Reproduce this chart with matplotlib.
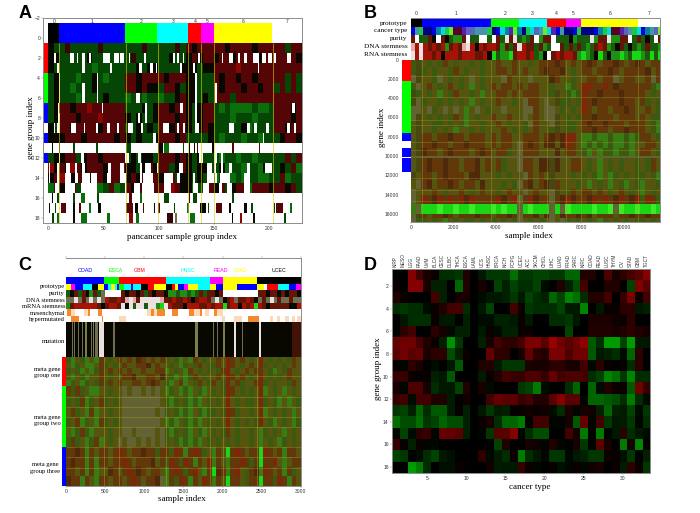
import numpy as np
import matplotlib
matplotlib.use('Agg')
import matplotlib.pyplot as plt
from matplotlib.colors import LinearSegmentedColormap

plt.rcParams['font.family'] = ['Liberation Sans', 'DejaVu Sans']

W, H = 700, 513
SERIF = 'Liberation Serif'
GREY = '#8c8c8c'

# --- colour letters used by all the strip strings below ---
palette = {
    'W': (255, 255, 255), 'k': (8, 8, 0), 'g': (25, 90, 12), 'G': (30, 145, 20),
    'B': (25, 215, 20), 'L': (60, 235, 40), 'r': (100, 22, 6), 'R': (165, 18, 6),
    'd': (65, 18, 6), 'o': (85, 85, 10), 'O': (60, 65, 15), 'y': (125, 125, 75),
    'x': (110, 110, 85), 'w': (235, 225, 225), 'p': (230, 170, 170),
    'n': (0, 0, 130), 'b': (0, 0, 225), 't': (0, 130, 160), 'c': (0, 220, 220),
    'e': (30, 200, 70), 'l': (100, 240, 40), 'm': (90, 0, 40), 'v': (90, 30, 180),
    's': (90, 100, 190), 'i': (70, 150, 170),
}
# panel A is darker, the B and C heatmaps are a fine red/green mix that reads as olive
a_palette = dict(palette, g=(5, 70, 5), G=(10, 110, 10), r=(85, 5, 5), R=(140, 5, 5), d=(55, 5, 5))
heat_palette = dict(palette, g=(60, 90, 15), G=(55, 125, 20), o=(85, 85, 15), O=(70, 72, 15),
                    r=(98, 55, 10), R=(125, 38, 8), d=(78, 42, 10), y=(98, 98, 50))
proto_colors = ['black', 'blue', '#00ff00', 'cyan', 'red', 'magenta', 'yellow', 'white']

# --- Panel A data: 18 gene groups, one letter per 5 samples ---
a_edges = [0, 10, 70, 99, 127, 139, 150, 203, 230]
a_lines = [10, 71, 100, 127, 139, 150, 204]
a_rows = [
    "kg gdgggggdgggg gggdgg gggdg rkr rr rrkrrrrkrrr rrgrr",
    "kk gggggkgggggg gdgggg ggkgg krk rr krrkrrrrkrr rrrrk",
    "kg ggggggGggggg ggkgkk ggggk kkg kk rrrrRrrrrrr rrrrr",
    "gk gggGggkgGggg rrkrrr rkrrr kkg gg rkrrkrrkrrr rrgrg",
    "gk ggGgggkggggg rrkrkk grrkg kkg gg rkrrrkrrkrr grgrg",
    "gk gggGggggkggg GggGgg Gggkr kkg kg rrrgrrrrrrr rrrrr",
    "gk rrkrrRrrrrrr gggkgk rrkrr kgk rr gGgGGGGgGGg rrrkr",
    "gk rrrkrrrRrrrr kgkggk rrrkr kgk rr gggGgggGggg rrrkr",
    "kg rrkrrrrkrrrr ggkgkg rrkrr kgk rk gggggkGgggg rrkrr",
    "kk krrrkrrrrrkr kgkggk rrrkr ggg gk gGgggGggGgg gkrrk",
    "WW WWWWWWWWWWWW WWWWWW WWWWW WWW WW WWWWWWWWWWW WWWWW",
    "gk krrgkrrkrrrr gkgkkg rrrkr kgk gg gGggGggGggg ggrgr",
    "Rk rkRrkrrrkrrR kkgkrk rrgkr kgk kg gkGggGggGkg gkgrG",
    "kr Rrkrrkrrkrrr krkrkr kgrgk kgk gk GgkGgGggGGg grGgg",
    "Gr kGrgrgGGgrGg rkrkrr rrRrk kGg kr krgkrrGrrrk rrkrg",
    "WW WWWWWWWWWWWW WWWWWW WWWWW WWW WW WWWWWWWWWWW WWWWW",
    "WW WWWWWWWWWWWW WWWWWW WWWWW WWW WW WWWWWWWWWWW WWWWW",
    "WW WWWWWWWWWWWW WWWWWW WWWWW WWW WW WWWWWWWWWWW WWWWW",
]
# white gaps per group (from sample, to sample)
a_gaps = {
    2: [(5, 7), (20, 23), (26, 27), (31, 33), (37, 39), (50, 56), (60, 64), (65, 69), (73, 74), (87, 89),
        (113, 115), (117, 119), (122, 123), (136, 138), (158, 159), (164, 168), (172, 174), (178, 180),
        (186, 191), (194, 198), (199, 203), (205, 207), (217, 220)],
    3: [(8, 10), (31, 33), (56, 58), (82, 85), (92, 95), (98, 99), (120, 121), (131, 133), (190, 191)],
    4: [(10, 11), (44, 45), (133, 135)],
    5: [(10, 11), (31, 33), (44, 45), (133, 135), (151, 153)],
    6: [(10, 11), (31, 33), (44, 45), (80, 83), (133, 135), (151, 153)],
    7: [(9, 10), (49, 50), (88, 90), (120, 122), (133, 135), (221, 224)],
    8: [(9, 11), (81, 83), (88, 90), (133, 135)],
    9: [(5, 6), (8, 11), (21, 25), (32, 33), (43, 45), (53, 56), (62, 64), (72, 77), (84, 86), (104, 110),
        (117, 119), (122, 124), (133, 137), (164, 169), (180, 183), (187, 189), (198, 200), (217, 219), (223, 225)],
    10: [(95, 98), (195, 196)],
    12: [(10, 11), (30, 32), (70, 73), (81, 84), (137, 140), (150, 153), (157, 159)],
    13: [(1, 2), (8, 10), (16, 20), (24, 26), (31, 33), (54, 57), (65, 69), (83, 85), (88, 93), (99, 100),
         (119, 122), (144, 149), (150, 152), (157, 159), (164, 167), (180, 183), (197, 203)],
    14: [(1, 2), (8, 10), (15, 21), (24, 27), (31, 38), (39, 44), (53, 57), (65, 71), (83, 85), (86, 95),
         (105, 113), (117, 120), (131, 133), (144, 150), (151, 153), (156, 165), (178, 183)],
    15: [(6, 10), (15, 24), (30, 44), (70, 71), (78, 83), (85, 96), (105, 111), (131, 136), (140, 146),
         (155, 158), (162, 167), (178, 183)],
}
# dark stripes on the nearly white groups (from sample, to sample, colour letter)
a_marks = {
    11: [(3, 4, 'k'), (10, 11, 'k'), (22, 24, 'g'), (43, 45, 'g'), (71, 75, 'g'), (100, 104, 'k'), (105, 110, 'G'),
         (122, 123, 'g'), (128, 129, 'k'), (132, 133, 'k'), (135, 136, 'r'), (149, 150, 'k'), (167, 169, 'r'), (191, 192, 'r')],
    16: [(3, 4, 'k'), (8, 10, 'g'), (22, 24, 'g'), (30, 33, 'G'), (44, 46, 'g'), (73, 76, 'r'), (83, 85, 'G'),
         (105, 110, 'g'), (128, 129, 'r'), (131, 135, 'g'), (167, 169, 'g')],
    17: [(1, 2, 'k'), (6, 7, 'g'), (12, 16, 'r'), (22, 24, 'k'), (28, 30, 'r'), (37, 39, 'G'), (45, 48, 'k'),
         (71, 77, 'r'), (79, 81, 'k'), (86, 87, 'r'), (96, 97, 'k'), (100, 101, 'r'), (114, 115, 'g'), (126, 128, 'G'),
         (138, 143, 'k'), (145, 146, 'g'), (152, 158, 'r'), (164, 166, 'k'), (178, 180, 'k'), (184, 186, 'g'),
         (205, 206, 'g'), (207, 213, 'r'), (219, 221, 'G')],
    18: [(3, 5, 'g'), (8, 10, 'G'), (22, 24, 'k'), (30, 35, 'G'), (53, 56, 'G'), (73, 77, 'R'), (80, 82, 'G'),
         (108, 113, 'd'), (115, 117, 'x'), (129, 133, 'G'), (167, 168, 'k'), (174, 176, 'R'), (186, 188, 'k'), (214, 216, 'g')],
}
a_side = ['red', 'red', 'red', '#00ff00', '#00ff00', '#00ff00', 'blue', 'blue', 'white',
          'blue', 'white', 'blue', 'white', 'white', 'white', 'white', 'white', 'white']

# --- Panel B data ---
b_edges = [0, 515, 3765, 5060, 6375, 7265, 8000, 10670, 11690]
b_side_edges = [0, 2250, 7590, 8410, 9200, 10070, 10240, 11650, 16860]
b_side_colors = ['red', '#00ff00', 'blue', 'white', 'blue', 'white', 'blue', 'white']
b_track_names = ['prototype', 'cancer type', 'purity', 'DNA stemness', 'RNA stemness']
# one letter per 200 samples
b_cancer = "bie nnbtcelmmvssiiie nbctvl tnecsil cvbi nnbe nnnbtecmmvsie cbtisl"
b_purity = "rWg grkWrkgGGrWggWWg Wrgwrw gGgrWGr rWgg gkGg ggwGrrwGGrrWg rgkgWr"
b_dna = "pRw RrRrRGrRrpwRkRrR RrGrgr wRrrgrG gWWr grgr gGgrRrGgkrgkg GgrggG"
b_rna = "wRw RRrRkRRRrRRRrrRk BgGGBr RRrRgGk WrRr RRrG BGgkBgkGGBGgB BGgBgB"
# one letter per 250 samples
b_row_edges = [0, 800, 1600, 2400, 3200, 4000, 4800, 5600, 6400, 7000, 7600, 8400, 9200, 10000, 10200,
               11600, 12500, 13400, 14000, 14950, 15950, 16400, 16860]
b_heat = [
    "gO ogogrogoogogo oroor oogor rrdr oro rdrorrdrord rorr",
    "gO gogoogrogoogo orror oroor drrd ogo rrorrdrorrr rdor",
    "yO oogyogogoyogo ooyro ooyoo odro ogo orrorryorro oryr",
    "gy orogorogoGogo rorro rorro ogoo Ggo RRrrRrdrrrr rrgG",
    "Og ogoGogroogoGo orror orrro ogOo gGg Rrrdrrrdrrr rogo",
    "Oy googogogoGogo oroog oyrro yoOg gog Rrdrrrrdrro rgog",
    "yy oygoyoyoGoyog ooyoo oyyro yyog ogo Rrorrorrdro orog",
    "yO ogogogroGogoo rooro oyoro yyOo gog rrdrrrorrro rogg",
    "oO ooggogogGoogo orogo ogyro oyOo ggo rdrrdrrrorr rogG",
    "oO oogogoGoogogo oorog ogoro ogOo ggo rrdrrorrdrr rogG",
    "oO rrorrdrrorrro rorro orrro rdrd RRo GGgGGgGGgGg rrog",
    "oO rrdrrorrdrrro rorro yrdro ddod Rro GgGgGgGGgGo orro",
    "oO drrordrrrordr orrgo yrrro oodo rro gGoGggGggGo rrog",
    "yy yyyyyyyyyyyyy yyyyy yyyyy yyyy yyy yyyyyyyyyyy yyyy",
    "oO rdrrdrrorrdor orgoo yrrod dOdo orr ogoGogogoog ogro",
    "Oo rrordrrroddoo ogogo oyror oOoo ogo gogGoGgogog gogG",
    "oy rdorrdrorrodo oogog yrdor dOro oog oGogoGogGog Goog",
    "yo oorogoorogoro ogoro oyoro oyOo gro rrorogorogo Gogo",
    "yo RrdRrRrRdRrrr rRdrR yrRdr ryrd Rdr rdRrRrdRrdR gRrg",
    "Gy BBBLBBLBBLBBB LBLBB yBLBB ByBy LBB BBLBBLyLBBL BBLB",
    "yO rorrdrorrrdrr orrdr yrrdo dyod rrd rdorrrorrdr rdrr",
    "yg gogoGogoggogo gogog yogog oyoy gog ogoGgogogog gogo",
]
b_hlines = [1750, 3900, 6250, 6800, 8500, 9400, 12300, 13500, 14700]

# --- Panel C data ---
c_cancers = ['COAD', 'ESCA', 'GBM', 'HNSC', 'READ', 'STAD', 'UCEC']
c_cancer_edges = [0, 485, 680, 1280, 1840, 2010, 2445, 3005]
c_cancer_colors = ['blue', '#00ff00', 'red', 'cyan', 'magenta', 'yellow', 'black']
c_name_pos = [251, 630, 946, 1551, 1977, 2236, 2714]
c_proto_edges = [0, 64, 115, 222, 328, 405, 486, 533, 571, 626, 656, 682, 741, 826, 861, 963, 1048, 1125, 1278, 1350,
                 1393, 1436, 1508, 1563, 1687, 1840, 1913, 2011, 2190, 2445, 2530, 2565, 2705, 2846, 2939, 3008]
c_proto_colors = ['yellow', 'magenta', 'blue', 'cyan', 'black', 'yellow', 'blue', 'cyan', 'yellow', 'cyan', 'blue',
                  '#00ff00', 'cyan', 'blue', 'cyan', 'black', 'red', 'yellow', 'black', 'red', 'yellow', 'blue',
                  'magenta', 'yellow', 'cyan', 'yellow', 'blue', 'yellow', 'blue', 'yellow', 'white', 'red', 'cyan',
                  'blue', 'magenta']
# one letter per 50 samples
c_purity = "gkrgrkGrgx WWWW rkrrkrgrkrrk GGgGGgGgrgr rkr WWWWWWWWW rrkrrkrkrrk"
c_dna = "xxwxrxwxwx RrrR rpwprwwwwwpr rRrrRrkrRRr xwx krRxrrRrk xrxwxrxxrxx"
c_mrna = "GrRRRRRRrk rRRr wkwgwwgwwGBw RrrrkRRRrrR rRR BrRRkRrRB RrkrrrrrkkR"
c_mesen_dark = [(10, 60), (285, 305), (415, 455), (1090, 1125), (1160, 1265), (1350, 1435), (1565, 1630), (1710, 1735), (1885, 1925)]
c_mesen_light = [(60, 110), (230, 285), (1030, 1090), (1125, 1160), (1640, 1710), (1780, 1830), (1925, 2000)]
c_hyper_dark = [(65, 160), (455, 470), (2330, 2460)]
c_hyper_light = [(680, 760), (1990, 2030), (2150, 2250), (2600, 2640), (2700, 2730), (2800, 2850), (2880, 2920), (2950, 3000)]
c_mut_stripes = [(72, 85, 'x'), (102, 115, 'x'), (158, 172, 'x'), (200, 214, 'x'), (243, 265, 'y'), (315, 330, 'x'),
                 (349, 362, 'y'), (371, 405, 'x'), (426, 486, 'w'), (605, 620, 'x'), (1650, 1690, 'y'),
                 (1883, 1895, 'x'), (1925, 1937, 'x'), (2011, 2025, 'y'), (2147, 2172, 'w'), (2245, 2258, 'x'),
                 (2460, 2490, 'w'), (2885, 3005, 'd')]
c_row_edges = [0, 18, 35, 53, 70, 88, 119, 150, 180, 211, 242, 272, 301, 330, 358, 387]
c_side_edges = [0, 88, 272, 387]
c_side_colors = ['red', '#00ff00', 'blue']
# one letter per 60 samples
c_heat = [
    "gGogGoGr ogo rorodroror gogGoGrogo oro Rrorogo Rogogogro",
    "oGgoGGor gog oroorrdoro ogoGgogrog gro Rrogoro Rgogogoro",
    "gogGoGgr oro rorooroorr GogoGrogog ogr Rogoror rogGogroo",
    "oGogGoor ogo orrdoorrod ogGoGgrogo oro Rrorogo Rogogoroo",
    "GgoGgogr gro roorrordro gGorGogrog rog Rorgoor Rgogoogro",
    "rgrgoGGo ogo oyoyyoyoyo GgoGgGogGo gog Rrogogo RGogoGogo",
    "gogrGgor gog oyyyyyyyyo gGgogGgGog ogo Rogoggo RgogGoGog",
    "orgoGrGo ogo oyyyyyyyoy gogGgGogGg gog Rrgoogo RGogogoGo",
    "gorGgoGr gog oyyyyyyyyo GgGogGgGog ogo Rogogog RogGogoGg",
    "oGgrgGoo ogo oyyoyyyyoy gGgogGogGo gog rogoogo GgogoGogo",
    "grgoGgrG ogo yoyyoyoyoy gogGgGgGog ogo gogoogo GogoGgogo",
    "rrdrGror ror Rrorrdrrgr rgRrGrRrgo Gro BrRrorr BRrorGrro",
    "rdrrGrGr ror rRrorrrdor gRrgRrGroR Gro GrrRrgr BrrRoGorr",
    "rrorGrGo odr orRrdrorro GrRrgrRoGr Bdr GrRogrd GRrorGrgo",
    "drrGroGr ror rorRrorrdy GrgRrGroRr Gro Brrogrr BrrgRrGro",
]
c_hlines = [57, 120, 150, 180, 211, 272, 301, 335]

# --- Panel D data: gene group (rows) by cancer type (columns) ---
d_types = ['KIRP', 'MESO', 'LGG', 'PAAD', 'UVM', 'BLCA', 'CESC', 'DLBC', 'THCA', 'ESCA', 'LAML', 'UCS', 'HNSC',
           'BRCA', 'KICH', 'PCPG', 'UCEC', 'ACC', 'SKCM', 'CHOL', 'LIHC', 'LUAD', 'PRAD', 'SARC', 'KIRC', 'COAD',
           'READ', 'LUSC', 'THYM', 'OV', 'STAD', 'GBM', 'TGCT']
d_values = np.array([
    [0, 0, .6, .3, .1, .05, -.2, -.2, -.25, .15, 0, -.1, -.25, -.25, -.25, -.5, -.25, -.25, -.3, -.3, -.25, -.25, -.45, -.45, .15, .15, 0, .35, .1, .2, .3, .4, .6],
    [.05, 0, .6, .6, .1, -.15, -.15, 0, -.45, .15, 0, .1, 0, -.3, -.15, -.3, -.2, -.2, -.3, -.05, 0, .15, -.15, -.35, .3, 0, 0, .15, .15, 0, -.3, .55, .4],
    [.15, .05, 0, 0, 0, .3, -.15, 0, .1, .1, 0, -.05, -.1, -.1, -.15, -.25, -.1, -.3, -.2, -.15, -.45, -.3, -.6, -.5, -.2, .15, .15, .3, 0, .25, .55, .05, .3],
    [-.2, -.25, -.2, -.2, -.05, .05, .15, .3, .3, -.2, 0, -.1, -.3, 0, 0, .3, .05, -.25, -.2, -.2, -.2, -.3, -.1, -.1, -.6, 0, -.1, .05, .05, .2, .2, -.1, -.15],
    [0, -.1, -.2, -.2, -.2, .05, -.1, -.1, 0, -.15, 0, -.05, -.05, -.15, -.15, -.1, .05, -.1, 0, 0, -.2, -.2, -.25, -.1, 0, .12, .12, .12, .08, .05, .2, 0, 0],
    [0, .2, .3, 0, 0, .2, .1, -.05, -.15, -.15, 0, -.1, .05, -.05, -.15, -.15, .05, .05, 0, 0, 0, 0, -.3, 0, 0, .15, .15, .15, .1, .15, .2, .15, .1],
    [.45, .5, .5, .3, .15, .05, -.15, -.65, -.25, 0, 0, -.15, .1, .3, .2, .2, .3, .55, .55, .4, .7, .5, .4, .5, .65, -.4, -.2, -.7, -.7, -.3, -.7, -.1, -.1],
    [.4, .5, .4, .45, .12, .2, .2, -.35, -.15, .05, 0, 0, .45, .2, .2, 0, .1, .45, .2, .15, .55, .55, .35, .5, .5, -.4, -.1, -.15, -.2, -.05, -.45, .2, 0],
    [.02, -.02, .2, .12, 0, -.05, 0, -.1, -.4, 0, 0, .15, .15, -.1, -.25, -.25, -.25, .12, .1, .1, .2, .2, .1, .1, .3, -.03, .2, .03, .02, .03, -.2, .2, 0],
    [.25, .25, .05, .02, .05, -.15, -.1, -.4, 0, 0, 0, -.12, .05, .15, .3, .25, .25, .35, .35, .25, .45, .3, .35, .35, .3, -.2, -.3, -.6, -.5, -.25, -.6, -.2, -.2],
    [.1, -.02, .35, .35, .1, -.2, -.1, -.1, -.3, .15, 0, .1, -.05, 0, 0, 0, -.25, -.3, -.55, -.05, 0, 0, -.2, -.45, 0, -.45, -.05, .15, .05, .05, -.4, .5, .25],
    [.25, .3, -.05, .3, .3, .15, .15, -.12, 0, .08, 0, 0, .3, .45, .4, .4, .25, .3, .15, .15, .4, .6, .4, .4, -.02, -.45, -.45, -.4, -.35, -.2, -.55, -.2, -.05],
    [-.25, -.3, -.15, -.45, -.2, -.4, -.4, -.12, .03, -.15, 0, -.1, -.25, -.12, -.15, .03, .05, .08, .05, .08, -.05, -.2, .12, -.02, .1, .08, -.15, -.45, -.15, -.12, -.3, -.05, -.25],
    [-.5, -.35, -.35, -.5, -.25, -.3, -.45, -.35, -.35, -.15, 0, .05, .1, -.2, -.45, -.45, -.55, 0, .3, .3, -.02, -.02, .1, -.4, .45, -.02, .3, -.25, -.1, -.12, -.25, -.02, -.2],
    [-.02, -.3, -.05, .2, .25, -.02, .45, .45, .4, -.15, 0, -.02, -.25, .4, .4, .6, -.02, -.2, -.35, -.35, 0, 0, .3, .1, -.55, -.02, -.55, -.02, -.1, .2, -.2, -.1, -.05],
    [.25, .05, -.15, .05, -.02, -.03, 0, 0, 0, 0, 0, 0, 0, -.3, .15, 0, 0, .1, .08, -.02, .15, -.03, 0, .1, -.25, -.02, .4, .1, 0, -.55, .1, -.6, 0],
    [-.3, -.25, 0, -.05, -.2, -.3, -.1, -.08, 0, 0, 0, .2, -.03, -.12, -.2, .05, -.55, -.2, -.1, -.02, -.25, -.25, -.03, -.1, -.15, -.25, -.25, .05, .05, -.08, -.25, 0, -.15],
    [0, 0, -.7, -.55, -.2, 0, -.08, -.08, .05, .02, 0, 0, .08, -.12, -.1, -.1, .25, .05, -.03, 0, .03, -.08, -.03, .05, -.03, .08, .1, 0, .05, -.12, .2, .05, -.25],
])


def axes_px(left, top, right, bottom):
    return fig.add_axes([left / W, 1 - bottom / H, (right - left) / W, (bottom - top) / H])


def px_text(x, y, s, **kw):
    fig.text(x / W, 1 - y / H, s, family=SERIF, ha='center', va='center', **kw)


def letter_rgb(ch, pal=palette):
    return np.array(pal[ch]) / 255


def draw_strip(ax, rows, step, y_edges, pal=palette):
    rgb = np.array([[pal[ch] for ch in row.replace(' ', '')] for row in rows], dtype=float) / 255
    x_edges = np.arange(rgb.shape[1] + 1) * step
    ax.pcolormesh(x_edges, y_edges, rgb, antialiased=False, rasterized=True)


def color_bar(ax, edges, colors, y0, y1):
    for i, c in enumerate(colors):
        ax.fill_between([edges[i], edges[i + 1]], y0, y1, color=c, lw=0, clip_on=False)


def style_axes(ax):
    for s in ax.spines.values():
        s.set_color(GREY)
        s.set_linewidth(0.7)
    ax.tick_params(labelsize=3.6, length=1.2, width=0.3, color=GREY, labelcolor='#333333', pad=1)


fig = plt.figure(figsize=(7, 5.13), dpi=100)

# --- Panel A ---
ax = axes_px(43.3, 18.3, 301.7, 222.7)
draw_strip(ax, a_rows, 5, np.arange(0.5, 19), a_palette)
for row, gaps in a_gaps.items():
    ax.broken_barh([(s, e - s) for s, e in gaps], (row - 0.5, 1), facecolors='white')
for row, marks in a_marks.items():
    ax.broken_barh([(s, e - s) for s, e, _ in marks], (row - 0.5, 1),
                   facecolors=[letter_rgb(m[2], a_palette) for m in marks])
color_bar(ax, a_edges, proto_colors, -1.5, 0.5)
for row, c in enumerate(a_side, start=1):
    ax.fill_between([-4.5, 0], row - 0.5, row + 0.5, color=c, lw=0)
ax.vlines(a_lines, 0.5, 18.5, color='#d8d000', alpha=0.6, lw=0.7)
ax.set_xlim(-4.5, 230)
ax.set_ylim(18.5, -2)
ax.set_xticks([0, 50, 100, 150, 200])
ax.set_yticks([-2, 0] + list(range(2, 19, 2)))
style_axes(ax)
for i in range(8):
    ax.text((a_edges[i] + a_edges[i + 1]) / 2, -1.72, str(i), fontsize=3.6, color='#333333', ha='center', va='center')
px_text(181.7, 236.7, 'pancancer sample group index', fontsize=6.5)
px_text(31, 127.7, 'gene group index', fontsize=6.5, rotation=90)

# --- Panel B ---
ax = axes_px(410.7, 18.3, 660, 222.3)
b_tracks = [b_cancer, b_purity, b_dna, b_rna]
for i, track in enumerate(b_tracks):
    top = -4270 + (i + 1) * 854
    draw_strip(ax, [track], 200, [top, top + 854])
color_bar(ax, b_edges, proto_colors, -4270, -3416)
draw_strip(ax, b_heat, 250, b_row_edges, heat_palette)
ax.hlines(b_hlines, 0, 11690, color='#b0a030', alpha=0.45, lw=0.5)
ax.vlines(b_edges[1:-1], 0, 16860, color='#b0a030', alpha=0.45, lw=0.6)
for i, c in enumerate(b_side_colors):
    ax.fill_between([-422, 0], b_side_edges[i], b_side_edges[i + 1], color=c, lw=0, clip_on=False)
ax.set_xlim(0, 11690)
ax.set_ylim(16860, -4270)
ax.set_xticks(range(0, 10001, 2000))
ax.set_yticks(range(0, 16001, 2000))
style_axes(ax)
ax.spines['left'].set_visible(False)
ax.tick_params(axis='y', length=0, pad=8.5)
for i in range(8):
    ax.text((b_edges[i] + b_edges[i + 1]) / 2, -4750, str(i), fontsize=3.6, color='#333333',
            ha='center', va='center', clip_on=False)
for i, name in enumerate(b_track_names):
    fig.text(407.3 / W, 1 - (23.3 + i * 7.7) / H, name, family=SERIF, fontsize=5.2, ha='right', va='center')
px_text(529, 236, 'sample index', fontsize=6.5)
px_text(381.7, 127, 'gene index', fontsize=6.5, rotation=90)

# --- Panel C ---
ax = axes_px(66, 258, 301.3, 485.7)
color_bar(ax, c_cancer_edges, c_cancer_colors, -238, -219)
color_bar(ax, c_proto_edges, c_proto_colors, -219, -200)
draw_strip(ax, [c_purity], 50, [-200, -180])
draw_strip(ax, [c_dna], 50, [-180, -160])
draw_strip(ax, [c_mrna], 50, [-160, -142])
ax.broken_barh([(s, e - s) for s, e in c_mesen_light], (-142, 20), facecolors='#fcd9b8')
ax.broken_barh([(s, e - s) for s, e in c_mesen_dark], (-142, 20), facecolors='#f58a2c')
ax.broken_barh([(s, e - s) for s, e in c_hyper_light], (-122, 19), facecolors='#fcd9b8')
ax.broken_barh([(s, e - s) for s, e in c_hyper_dark], (-122, 19), facecolors='#f58a2c')
ax.fill_between([0, 3010], -103, 0, color=letter_rgb('k'), lw=0)
ax.broken_barh([(s, e - s) for s, e, _ in c_mut_stripes], (-103, 103),
               facecolors=[letter_rgb(m[2]) for m in c_mut_stripes])
draw_strip(ax, c_heat, 60, c_row_edges, heat_palette)
ax.hlines(c_hlines, 0, 3005, color='#c0b030', alpha=0.45, lw=0.5)
ax.vlines(c_cancer_edges[1:-1], 0, 387, color='#c0b030', alpha=0.45, lw=0.6)
for i, c in enumerate(c_side_colors):
    ax.fill_between([-47, 0], c_side_edges[i], c_side_edges[i + 1], color=c, lw=0, clip_on=False)
for name, pos, c in zip(c_cancers, c_name_pos, c_cancer_colors):
    ax.text(pos, -258, name, fontsize=3.8, color=c, ha='center', va='center')
ax.set_xlim(0, 3005)
ax.set_ylim(387, -296)
ax.set_xticks(range(0, 3001, 500))
ax.set_yticks([])
style_axes(ax)
ax.spines['left'].set_visible(False)
ax.tick_params(axis='x', top=True)
for name, zy in zip(['prototype', 'purity', 'DNA stemness', 'mRNA stemness', 'mesenchymal', 'hypermutated', 'mutation'],
                    [110, 130, 150, 170, 189, 207, 275]):
    fig.text(65 / W, 1 - (250 + zy / 3) / H, name, family=SERIF, fontsize=4.7, ha='right', va='center')
for name, zy in zip(['meta gene\ngroup one', 'meta gene\ngroup two', 'meta gene\ngroup three'], [368, 512, 654]):
    fig.text(60.5 / W, 1 - (250 + zy / 3) / H, name, family=SERIF, fontsize=4.7, ha='right', va='center',
             multialignment='center', linespacing=1.35)
px_text(181.7, 499, 'sample index', fontsize=6.5)

# --- Panel D ---
ax = axes_px(391.7, 269, 650, 472.7)
red_green = LinearSegmentedColormap.from_list('red_green', ['#00ff00', '#000000', '#ff0000'])
ax.imshow(d_values, cmap=red_green, vmin=-1.15, vmax=1.15, aspect='auto', interpolation='nearest',
          extent=[0.5, 33.5, 18.5, 0.5])
ax.set_xticks(range(5, 31, 5))
ax.set_yticks(range(2, 19, 2))
style_axes(ax)
for i, name in enumerate(d_types, start=1):
    ax.text(i, 0.35, name, rotation=90, fontsize=3.4, color='#333333', ha='center', va='bottom', clip_on=False)
px_text(530, 486.7, 'cancer type', fontsize=6.5)
px_text(378, 369, 'gene group index', fontsize=6.5, rotation=90)

# --- Panel letters ---
for letter, x, y in [('A', 25.5, 14), ('B', 370, 14), ('C', 25, 265), ('D', 370.5, 265)]:
    fig.text(x / W, 1 - y / H, letter, fontsize=13, fontweight='bold', family='Liberation Sans', ha='center', va='center')

fig.savefig('out.png', dpi=100)
